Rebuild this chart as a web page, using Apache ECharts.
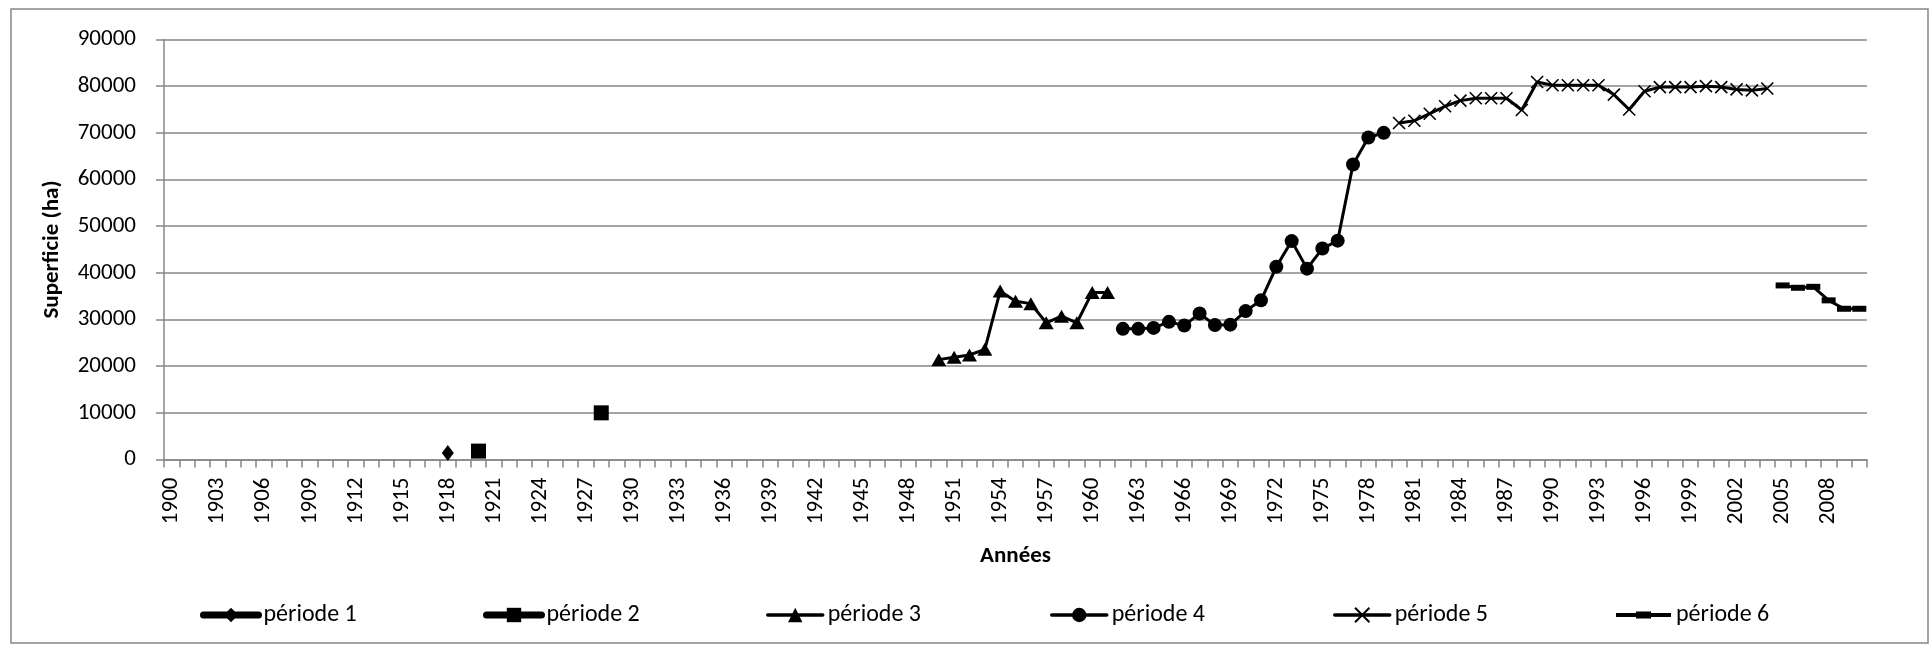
<!DOCTYPE html>
<html>
<head>
<meta charset="utf-8">
<script src="https://cdn.jsdelivr.net/npm/echarts@6/dist/echarts.min.js"></script>
<style>
  html, body { margin: 0; padding: 0; background: #fff; }
  #chart { width: 1930px; height: 645px; }
</style>
</head>
<body>
<div id="chart"></div>
<script>
// années (catégories de l'axe X)
const years = [
  '1900','1901','1902','1903','1904','1905','1906','1907','1908','1909',
  '1910','1911','1912','1913','1914','1915','1916','1917','1918','1919',
  '1920','1921','1922','1923','1924','1925','1926','1927','1928','1929',
  '1930','1931','1932','1933','1934','1935','1936','1937','1938','1939',
  '1940','1941','1942','1943','1944','1945','1946','1947','1948','1949',
  '1950','1951','1952','1953','1954','1955','1956','1957','1958','1959',
  '1960','1961','1962','1963','1964','1965','1966','1967','1968','1969',
  '1970','1971','1972','1973','1974','1975','1976','1977','1978','1979',
  '1980','1981','1982','1983','1984','1985','1986','1987','1988','1989',
  '1990','1991','1992','1993','1994','1995','1996','1997','1998','1999',
  '2000','2001','2002','2003','2004','2005','2006','2007','2008','2009',
  '2010'
];

// superficie (ha) par période, à partir de l'année de début
const p1Start = '1918';
const p1Values = [1400];
const p2Start = '1920';
const p2Values = [1800, null, null, null, null, null, null, null, 10000];
const p3Start = '1950';
const p3Values = [21400, 21900, 22400, 23600, 36100, 33900, 33400, 29300, 30700, 29300, 35800, 35800];
const p4Start = '1962';
const p4Values = [28000, 28000, 28200, 29500, 28700, 31300, 28800, 28900, 31800, 34100,
                  41300, 46800, 40900, 45200, 46900, 63200, 69000, 70000];
const p5Start = '1980';
const p5Values = [72100, 72600, 74100, 75700, 76900, 77400, 77400, 77400, 74900, 80900,
                  80200, 80200, 80200, 80200, 78200, 75000, 78900, 79800, 79800, 79800,
                  80000, 79800, 79300, 79100, 79500];
const p6Start = '2005';
const p6Values = [37300, 36800, 37000, 34100, 32300, 32300];

const names = ['période 1', 'période 2', 'période 3', 'période 4', 'période 5', 'période 6'];

// aligne les valeurs d'une période sur les catégories
function align(start, values) {
  const out = years.map(() => null);
  const i0 = years.indexOf(start);
  values.forEach((v, i) => { out[i0 + i] = v; });
  return out;
}

const FONT = 'Carlito, Calibri, Lato, sans-serif';
const GRAY = '#878787';
const legendLeft = [195, 478, 761, 1045, 1328, 1611];

const chart = echarts.init(document.getElementById('chart'));

function lineSeries(name, data, symbol, size, extra) {
  return Object.assign({
    name: name,
    type: 'line',
    data: data,
    symbol: symbol,
    symbolSize: size,
    showSymbol: true,
    showAllSymbol: true,
    connectNulls: false,
    lineStyle: { color: '#000', width: 3 },
    itemStyle: { color: '#000' },
    emphasis: { disabled: true }
  }, extra || {});
}

const crossPath = 'path://M0,0L12,12M12,0L0,12';

const option = {
  animation: false,
  backgroundColor: '#fff',
  textStyle: { fontFamily: FONT },
  graphic: [{
    type: 'rect',
    shape: { x: 11, y: 9, width: 1917, height: 634 },
    style: { fill: 'none', stroke: GRAY, lineWidth: 1.5 },
    silent: true
  }],
  grid: {
    left: 164, right: 63, top: 39.5, bottom: 185.5,
    containLabel: false,
    outerBoundsMode: 'none'
  },
  legend: names.map((n, i) => ({
    data: i === 5
      ? [{ name: n, icon: 'path://M0,7h55v4h-55zM20,5.5h15v7h-15z' }]
      : [n],
    left: legendLeft[i],
    top: 598,
    orient: 'horizontal',
    itemWidth: 55,
    itemHeight: 18,
    selectedMode: false,
    textStyle: { fontFamily: FONT, fontSize: 24, color: '#000', lineHeight: 18 },
    lineStyle: { width: i < 2 ? 7 : 3.5, cap: 'round' }
  })),
  xAxis: {
    type: 'category',
    data: years,
    boundaryGap: true,
    name: 'Années',
    nameLocation: 'middle',
    nameGap: 85,
    nameTextStyle: { fontFamily: FONT, fontSize: 23, fontWeight: 'bold', color: '#000' },
    axisLine: { show: true, lineStyle: { color: GRAY, width: 1.5 } },
    axisTick: { show: true, interval: 0, length: 8, lineStyle: { color: GRAY, width: 1.5 } },
    axisLabel: { interval: 2, rotate: 90, margin: 18, fontFamily: FONT, fontSize: 23, color: '#000' },
    splitLine: { show: false }
  },
  yAxis: {
    type: 'value',
    min: 0,
    max: 90000,
    interval: 10000,
    name: 'Superficie (ha)',
    nameLocation: 'middle',
    nameGap: 100,
    nameRotate: 90,
    nameTextStyle: { fontFamily: FONT, fontSize: 23, fontWeight: 'bold', color: '#000' },
    axisLine: { show: true, lineStyle: { color: GRAY, width: 1.5 } },
    axisTick: { show: true, length: 8, lineStyle: { color: GRAY, width: 1.5 } },
    axisLabel: {
      margin: 28, fontFamily: FONT, fontSize: 23, color: '#000',
      formatter: (v) => String(v)
    },
    splitLine: { show: true, lineStyle: { color: GRAY, width: 1.5 } }
  },
  series: [
    lineSeries(names[0], align(p1Start, p1Values), 'diamond', [12, 16], { lineStyle: { color: '#000', width: 7 } }),
    lineSeries(names[1], align(p2Start, p2Values), 'rect', 15, { lineStyle: { color: '#000', width: 7 } }),
    lineSeries(names[2], align(p3Start, p3Values), 'triangle', [15, 13]),
    lineSeries(names[3], align(p4Start, p4Values), 'circle', 14),
    lineSeries(names[4], align(p5Start, p5Values), crossPath, 12, {
      itemStyle: { color: '#000', borderColor: '#000', borderWidth: 1.6 }
    }),
    lineSeries(names[5], align(p6Start, p6Values), 'rect', [14, 6])
  ]
};

chart.setOption(option);
</script>
</body>
</html>
